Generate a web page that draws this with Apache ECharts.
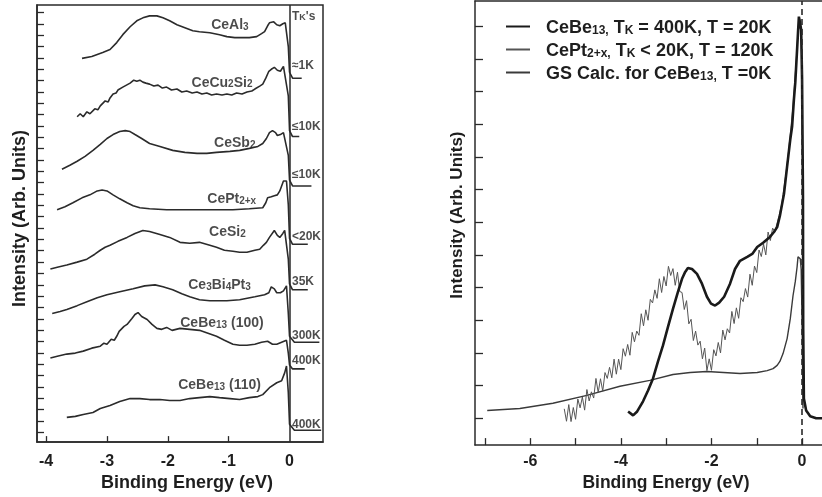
<!DOCTYPE html>
<html>
<head>
<meta charset="utf-8">
<script src="https://cdn.jsdelivr.net/npm/echarts@6/dist/echarts.min.js"></script>
<style>
  html, body { margin: 0; padding: 0; background: #fff; }
  #chart { width: 822px; height: 497px; }
</style>
</head>
<body>
<div id="chart"></div>
<script>
// ---------- Left panel: 4f spectra of Ce compounds, offset vertically ----------
// [binding energy (eV), intensity (arb. units)]
const ceAl3 = [[-3.41,388],[-3.25,390],[-3.07,394],[-2.95,397],[-2.84,404],[-2.74,412],[-2.62,420],[-2.51,426],[-2.41,429],[-2.30,431],[-2.18,431],[-2.08,429],[-1.97,426],[-1.85,422],[-1.72,419],[-1.59,416],[-1.48,415],[-1.31,414],[-1.15,412],[-1.03,410],[-0.90,409],[-0.82,409],[-0.66,409],[-0.54,410],[-0.46,413],[-0.41,415],[-0.36,421],[-0.33,424],[-0.26,425],[-0.21,422],[-0.16,421],[-0.11,423],[-0.07,424],[-0.02,400],[0.0,374],[0.05,368],[0.20,368]];
const ceCu2Si2 = [[-3.49,329],[-3.44,332],[-3.39,329],[-3.33,334],[-3.28,332],[-3.20,337],[-3.15,336],[-3.11,340],[-3.03,345],[-2.98,344],[-2.95,348],[-2.90,352],[-2.85,353],[-2.82,356],[-2.74,359],[-2.68,361],[-2.62,363],[-2.56,366],[-2.51,365],[-2.46,366],[-2.41,364],[-2.36,363],[-2.30,362],[-2.23,360],[-2.16,361],[-2.09,358],[-2.02,359],[-1.94,356],[-1.85,357],[-1.77,354],[-1.69,355],[-1.60,353],[-1.52,354],[-1.44,352],[-1.36,353],[-1.28,351],[-1.20,352],[-1.11,351],[-1.03,352],[-0.95,351],[-0.87,353],[-0.78,352],[-0.70,354],[-0.62,355],[-0.57,357],[-0.49,360],[-0.44,362],[-0.39,368],[-0.34,375],[-0.30,377],[-0.25,379],[-0.20,376],[-0.15,375],[-0.10,380],[-0.07,379],[-0.02,350],[0.0,315],[0.05,309],[0.16,309]];
const ceSb2 = [[-3.74,276],[-3.61,280],[-3.49,284],[-3.36,289],[-3.23,295],[-3.11,301],[-3.00,307],[-2.90,311],[-2.79,314],[-2.70,315],[-2.62,314],[-2.54,311],[-2.43,307],[-2.30,302],[-2.13,299],[-1.92,295],[-1.72,293],[-1.52,292],[-1.36,292],[-1.20,293],[-0.98,294],[-0.82,295],[-0.66,297],[-0.52,299],[-0.44,302],[-0.38,307],[-0.33,313],[-0.28,315],[-0.23,313],[-0.20,310],[-0.15,311],[-0.10,313],[-0.07,314],[-0.02,290],[0.0,265],[0.05,259],[0.36,259]];
const cePt2x = [[-3.82,235],[-3.69,238],[-3.56,242],[-3.41,247],[-3.28,250],[-3.16,254],[-3.08,255],[-3.00,254],[-2.90,250],[-2.79,246],[-2.67,242],[-2.57,239],[-2.46,237],[-2.30,236],[-2.02,235],[-1.75,235],[-1.48,235],[-1.20,235],[-0.93,235],[-0.66,236],[-0.44,237],[-0.39,242],[-0.36,247],[-0.30,248],[-0.25,249],[-0.20,250],[-0.16,254],[-0.13,259],[-0.10,264],[-0.05,264],[-0.02,240],[0.0,206],[0.05,200],[0.30,200]];
const ceSi2 = [[-3.93,175],[-3.80,177],[-3.66,179],[-3.49,182],[-3.33,185],[-3.20,190],[-3.11,194],[-3.03,197],[-2.95,199],[-2.82,203],[-2.67,207],[-2.54,211],[-2.41,214],[-2.30,213],[-2.13,210],[-1.97,207],[-1.80,202],[-1.64,201],[-1.48,202],[-1.31,199],[-1.20,197],[-1.07,194],[-0.93,193],[-0.82,192],[-0.70,192],[-0.57,194],[-0.49,195],[-0.43,199],[-0.38,202],[-0.33,207],[-0.30,209],[-0.25,214],[-0.20,209],[-0.16,207],[-0.11,211],[-0.08,214],[-0.05,213],[-0.02,185],[0.0,160],[0.05,154],[0.30,154]];
const ce3Bi4Pt3 = [[-3.90,130],[-3.77,132],[-3.66,134],[-3.49,138],[-3.33,142],[-3.16,146],[-3.00,149],[-2.79,152],[-2.57,155],[-2.38,158],[-2.21,159],[-2.08,157],[-1.92,154],[-1.77,150],[-1.64,147],[-1.48,144],[-1.31,143],[-1.03,143],[-0.82,144],[-0.57,147],[-0.41,149],[-0.34,151],[-0.30,157],[-0.25,155],[-0.21,151],[-0.15,151],[-0.10,153],[-0.05,158],[-0.02,130],[0.0,107],[0.08,101],[0.49,101]];
const ceBe13s100 = [[-3.93,85],[-3.80,87],[-3.66,89],[-3.52,90],[-3.39,92],[-3.25,95],[-3.11,97],[-3.05,100],[-3.00,99],[-2.93,104],[-2.88,103],[-2.84,107],[-2.80,112],[-2.77,110],[-2.72,117],[-2.67,119],[-2.59,125],[-2.54,129],[-2.49,131],[-2.43,127],[-2.34,124],[-2.26,119],[-2.18,115],[-2.10,114],[-2.02,116],[-1.93,113],[-1.80,115],[-1.64,114],[-1.48,113],[-1.34,110],[-1.20,107],[-1.07,103],[-0.93,99],[-0.82,98],[-0.70,98],[-0.57,99],[-0.46,101],[-0.36,102],[-0.28,99],[-0.21,99],[-0.13,101],[-0.05,103],[-0.02,90],[0.0,78],[0.05,74],[0.25,74]];
const ceBe13s110 = [[-3.66,25],[-3.52,26],[-3.39,28],[-3.23,30],[-3.11,34],[-2.95,37],[-2.79,41],[-2.62,44],[-2.46,44],[-2.30,43],[-2.13,43],[-1.97,42],[-1.80,42],[-1.64,44],[-1.48,45],[-1.31,46],[-1.15,45],[-0.98,44],[-0.82,43],[-0.66,45],[-0.52,46],[-0.44,48],[-0.33,55],[-0.21,60],[-0.13,62],[-0.08,70],[-0.05,77],[-0.02,50],[0.0,18],[0.08,12],[0.52,12]];

// compound names ("~" toggles subscript) and where they are written
const curveNames = ['CeAl~3~', 'CeCu~2~Si~2~', 'CeSb~2~', 'CePt~2+x~', 'CeSi~2~', 'Ce~3~Bi~4~Pt~3~', 'CeBe~13~ (100)', 'CeBe~13~ (110)'];
const curveLabelAt = [[-0.98,423],[-1.11,365],[-0.90,304],[-0.95,247],[-1.02,214],[-1.15,160],[-1.11,122],[-1.15,59]];

// Kondo temperatures column
const tkLabels = ['T~K~\'s', '≈1K', '≤10K', '≤10K', '<20K', '35K', '300K', '400K', '400K'];
const tkLabelY = [432, 382, 320, 272, 209, 164, 109, 84, 19];

const leftXTicks = [-4, -3, -2, -1, 0];

// ---------- Right panel: CeBe13 vs CePt2+x vs ground-state calculation ----------
const ceBe13 = [[-3.84,0.21],[-3.73,0.09],[-3.64,0.21],[-3.51,0.52],[-3.40,0.85],[-3.29,1.22],[-3.18,1.74],[-3.07,2.23],[-2.96,2.80],[-2.85,3.35],[-2.74,3.87],[-2.65,4.27],[-2.58,4.48],[-2.52,4.60],[-2.43,4.57],[-2.32,4.42],[-2.21,4.12],[-2.10,3.72],[-2.01,3.51],[-1.92,3.45],[-1.83,3.54],[-1.72,3.72],[-1.59,4.12],[-1.48,4.57],[-1.37,4.82],[-1.21,4.94],[-1.10,5.03],[-0.99,5.24],[-0.86,5.37],[-0.71,5.55],[-0.62,5.70],[-0.55,5.85],[-0.49,6.19],[-0.40,6.86],[-0.33,7.71],[-0.26,8.54],[-0.22,8.93],[-0.18,9.76],[-0.15,10.27],[-0.11,11.28],[-0.09,11.80],[-0.07,12.29],[-0.04,12.35],[-0.02,11.89],[0.0,10.37],[0.02,6.71],[0.025,2.74],[0.04,0.61],[0.09,0.24],[0.18,0.06],[0.31,0.0],[0.44,0.0]];
const cePt2xNoisy = [[-5.25,0.29],[-5.20,-0.09],[-5.15,0.42],[-5.10,-0.10],[-5.05,0.33],[-5.00,-0.03],[-4.95,0.59],[-4.90,0.32],[-4.85,0.65],[-4.80,0.25],[-4.75,0.88],[-4.70,0.53],[-4.65,0.81],[-4.60,0.62],[-4.55,1.22],[-4.50,0.79],[-4.45,1.21],[-4.40,0.83],[-4.35,1.40],[-4.30,1.22],[-4.25,1.56],[-4.20,1.24],[-4.15,1.81],[-4.10,1.35],[-4.05,1.81],[-4.00,1.49],[-3.95,2.13],[-3.90,1.90],[-3.85,2.26],[-3.80,1.93],[-3.75,2.63],[-3.70,2.34],[-3.65,2.67],[-3.60,2.54],[-3.55,3.20],[-3.50,2.83],[-3.45,3.32],[-3.40,3.00],[-3.35,3.64],[-3.30,3.53],[-3.25,3.93],[-3.20,3.67],[-3.15,4.27],[-3.10,3.85],[-3.05,4.34],[-3.00,4.05],[-2.95,4.65],[-2.90,4.37],[-2.85,4.58],[-2.80,4.07],[-2.75,4.47],[-2.70,3.88],[-2.65,3.85],[-2.60,3.33],[-2.55,3.60],[-2.50,2.89],[-2.45,3.03],[-2.40,2.38],[-2.35,2.67],[-2.30,2.24],[-2.25,2.36],[-2.20,1.82],[-2.15,2.15],[-2.10,1.46],[-2.05,1.82],[-2.00,1.47],[-1.95,2.10],[-1.90,1.91],[-1.85,2.32],[-1.80,2.00],[-1.75,2.70],[-1.70,2.40],[-1.65,2.74],[-1.60,2.61],[-1.55,3.27],[-1.50,2.90],[-1.45,3.38],[-1.40,3.06],[-1.35,3.69],[-1.30,3.57],[-1.25,3.97],[-1.20,3.71],[-1.15,4.41],[-1.10,4.07],[-1.05,4.66],[-1.00,4.46],[-0.95,5.15],[-0.90,4.95],[-0.85,5.33],[-0.80,5.00],[-0.75,5.70],[-0.70,5.44],[-0.65,5.82],[-0.60,5.72],[-0.55,5.98],[-0.50,6.25],[-0.45,6.55],[-0.40,7.05],[-0.35,7.55],[-0.30,8.15],[-0.25,8.85],[-0.20,9.55],[-0.16,10.35],[-0.12,11.15],[-0.09,11.85],[-0.06,12.25],[-0.03,12.15],[-0.01,11.0],[0.01,8.0],[0.02,5.0],[0.03,2.0],[0.05,0.6]];
const gsCalc = [[-6.95,0.24],[-6.23,0.30],[-5.50,0.46],[-4.75,0.70],[-4.02,0.98],[-3.36,1.16],[-2.85,1.34],[-2.47,1.40],[-2.10,1.43],[-1.37,1.37],[-0.99,1.40],[-0.77,1.46],[-0.64,1.52],[-0.55,1.62],[-0.49,1.74],[-0.42,1.98],[-0.33,2.44],[-0.26,3.05],[-0.20,3.75],[-0.15,4.18],[-0.11,4.63],[-0.09,4.94],[-0.06,4.97],[-0.04,4.88],[-0.02,4.57],[0.0,3.0],[0.02,0.3]];

const rightNames = ['CeBe13 T=20K', 'CePt2+x T=120K', 'GS Calc.'];
const legendText = ['CeBe~13,~ T~K~ = 400K, T = 20K', 'CePt~2+x,~ T~K~ < 20K, T = 120K', 'GS Calc. for CeBe~13,~ T =0K'];
const rightXTicks = [-7, -6, -5, -4, -3, -2, -1, 0];
const rightXLabels = [-6, -4, -2, 0];
const rightYTicks = [0, 1, 2, 3, 4, 5, 6, 7, 8, 9, 10, 11, 12];

// ---------- helpers ----------
const FONT = '"Liberation Sans", Arial, Helvetica, "DejaVu Sans", sans-serif';
const INK = '#1e1e1e';

// "~" toggles between normal and subscript rich-text runs
function richText(str, n, s) {
  return str.split('~').map((p, i) => p ? '{' + (i % 2 ? s : n) + '|' + p + '}' : '').join('');
}
function richStyles(size, subSize) {
  return {
    n: { fontFamily: FONT, fontWeight: 'bold', fontSize: size, lineHeight: size + 3, verticalAlign: 'bottom', color: INK },
    s: { fontFamily: FONT, fontWeight: 'bold', fontSize: subSize, lineHeight: subSize, verticalAlign: 'bottom', color: INK }
  };
}

const leftYTicks = [];
for (let v = 10; v <= 440; v += 11.47) leftYTicks.push(+v.toFixed(2));

const axisLine = { show: true, onZero: false, lineStyle: { color: '#2a2a2a', width: 1.5 } };
const tickStyle = { color: '#2a2a2a', width: 1.3 };
const tickFont = { fontFamily: FONT, fontWeight: 'bold', fontSize: 16, color: INK };
const titleFont = { fontFamily: FONT, fontWeight: 'bold', fontSize: 18, color: INK };

const leftLines = [ceAl3, ceCu2Si2, ceSb2, cePt2x, ceSi2, ce3Bi4Pt3, ceBe13s100, ceBe13s110];

const series = leftLines.map((d, i) => ({
  type: 'line', xAxisIndex: 0, yAxisIndex: 0, data: d, symbol: 'none', silent: true,
  lineStyle: { color: '#2b2b2b', width: 1.6 },
  markLine: i === 0 ? {
    silent: true, symbol: ['none', 'none'], label: { show: false },
    lineStyle: { color: '#2a2a2a', width: 1.5, type: 'solid' },
    data: [{ xAxis: 0 }]
  } : undefined
}));

series.push({
  type: 'scatter', xAxisIndex: 0, yAxisIndex: 0, symbolSize: 0, silent: true,
  data: curveLabelAt.map((p, i) => ({ value: p, name: curveNames[i] })),
  label: { show: true, position: 'inside', formatter: p => richText(p.name, 'n', 's'), rich: richStyles(14, 10) }
});
series.push({
  type: 'scatter', xAxisIndex: 0, yAxisIndex: 0, symbolSize: 0, silent: true,
  data: tkLabelY.map((y, i) => ({ value: [0.04, y], name: tkLabels[i] })),
  label: { show: true, position: 'inside', align: 'left', formatter: p => richText(p.name, 'n', 's'), rich: richStyles(12, 9) }
});

series.push({
  name: rightNames[2], type: 'line', xAxisIndex: 1, yAxisIndex: 1, data: gsCalc, symbol: 'none', silent: true,
  color: '#3a3a3a', lineStyle: { color: '#3a3a3a', width: 1.4 }, z: 2
});
series.push({
  name: rightNames[1], type: 'line', xAxisIndex: 1, yAxisIndex: 1, data: cePt2xNoisy, symbol: 'none', silent: true,
  color: '#555', lineStyle: { color: '#555', width: 1 }, z: 3
});
series.push({
  name: rightNames[0], type: 'line', xAxisIndex: 1, yAxisIndex: 1, data: ceBe13, symbol: 'none', silent: true,
  color: '#1a1a1a', lineStyle: { color: '#1a1a1a', width: 2.6 }, z: 4,
  markLine: {
    silent: true, symbol: ['none', 'none'], label: { show: false },
    lineStyle: { color: '#2a2a2a', width: 1.6, type: [6, 4] },
    data: [{ xAxis: 0 }]
  }
});

const legendRich = Object.assign({ gap: { width: 11 } }, richStyles(18, 12));

const option = {
  animation: false,
  backgroundColor: '#fff',
  grid: [
    { left: 37, top: 5, width: 286, height: 442, show: true, borderColor: '#2a2a2a', borderWidth: 1.5 },
    // right panel: open on the right, framed by bottom/left axes and a top rule
    { left: 475, top: 1, width: 347, height: 446 }
  ],
  legend: {
    data: rightNames, orient: 'vertical', left: 505, top: 19, padding: 0,
    itemWidth: 24, itemHeight: 12, itemGap: 5, selectedMode: false,
    itemStyle: { opacity: 0 },
    formatter: name => '{gap|}' + richText(legendText[rightNames.indexOf(name)], 'n', 's'),
    textStyle: { rich: legendRich }
  },
  xAxis: [
    {
      type: 'value', gridIndex: 0, min: -4.15, max: 0.55,
      axisLine, splitLine: { show: false },
      axisTick: { inside: true, length: 6, customValues: [-4, -3, -2, -1], lineStyle: tickStyle },
      axisLabel: Object.assign({ customValues: leftXTicks, margin: 11 }, tickFont),
      name: 'Binding Energy (eV)', nameLocation: 'middle', nameGap: 23,
      nameTextStyle: Object.assign({ padding: [0, 0, 0, 14] }, titleFont)
    },
    {
      type: 'value', gridIndex: 1, min: -7.22, max: 0.44,
      axisLine, splitLine: { show: false },
      axisTick: { inside: true, length: 7, customValues: rightXTicks, lineStyle: tickStyle },
      axisLabel: Object.assign({ customValues: rightXLabels, margin: 8 }, tickFont),
      name: 'Binding Energy (eV)', nameLocation: 'middle', nameGap: 24,
      nameTextStyle: Object.assign({ padding: [0, 0, 0, 35] }, titleFont, { fontSize: 17.5 })
    },
    {
      // top rule of the right frame
      type: 'value', gridIndex: 1, position: 'top', min: -7.22, max: 0.44,
      axisLine, axisTick: { show: false }, axisLabel: { show: false }, splitLine: { show: false }
    }
  ],
  yAxis: [
    {
      type: 'value', gridIndex: 0, min: 0, max: 442,
      axisLine, splitLine: { show: false }, axisLabel: { show: false },
      axisTick: { inside: true, length: 7, customValues: leftYTicks, lineStyle: tickStyle },
      name: 'Intensity (Arb. Units)', nameLocation: 'middle', nameRotate: 90, nameGap: 8,
      nameTextStyle: Object.assign({ padding: [0, 0, 0, 10] }, titleFont)
    },
    {
      type: 'value', gridIndex: 1, min: -0.82, max: 12.77,
      axisLine, splitLine: { show: false }, axisLabel: { show: false },
      axisTick: { inside: true, length: 8, customValues: rightYTicks, lineStyle: tickStyle },
      name: 'Intensity (Arb. Units)', nameLocation: 'middle', nameRotate: 90, nameGap: 9,
      nameTextStyle: Object.assign({ padding: [0, 0, 0, 16] }, titleFont, { fontSize: 17 })
    }
  ],
  series
};

const chart = echarts.init(document.getElementById('chart'), null, { renderer: 'canvas' });
chart.setOption(option);
</script>
</body>
</html>
